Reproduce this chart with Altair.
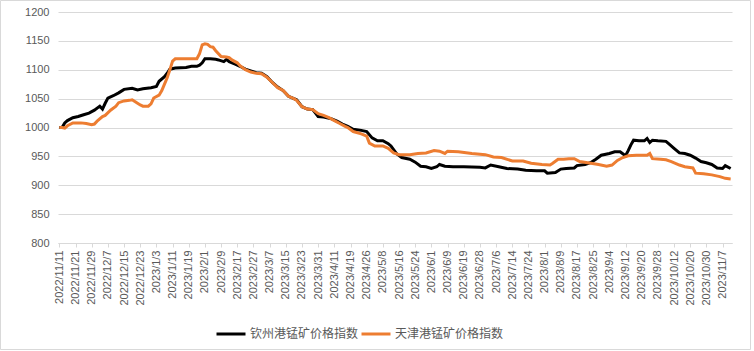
import altair as alt
import pandas as pd

QZ = "钦州港锰矿价格指数"
TJ = "天津港锰矿价格指数"

x_labels = ['2022/11/11', '2022/11/21', '2022/11/29', '2022/12/7', '2022/12/15', '2022/12/23',
            '2023/1/3', '2023/1/11', '2023/1/19', '2023/2/1', '2023/2/9', '2023/2/17', '2023/2/27',
            '2023/3/7', '2023/3/15', '2023/3/23', '2023/3/31', '2023/4/11', '2023/4/19', '2023/4/26',
            '2023/5/8', '2023/5/16', '2023/5/24', '2023/6/1', '2023/6/9', '2023/6/19', '2023/6/28',
            '2023/7/6', '2023/7/14', '2023/7/24', '2023/8/1', '2023/8/9', '2023/8/17', '2023/8/25',
            '2023/9/4', '2023/9/12', '2023/9/20', '2023/9/28', '2023/10/12', '2023/10/20',
            '2023/10/30', '2023/11/7']
label_step = 6
n_days = 250

qz_idx = [0, 1, 2, 3, 5, 7, 9, 11, 13, 15, 16, 17, 18, 20, 22, 24, 27, 29, 31, 34, 36, 37, 39, 40,
          41, 43, 47, 49, 51, 52, 53, 54, 56, 58, 59, 61, 62, 63, 65, 67, 69, 71, 73, 75, 77, 79,
          81, 83, 85, 87, 88, 90, 92, 94, 96, 98, 101, 103, 105, 107, 109, 112, 114, 116, 118, 120,
          122, 123, 125, 127, 130, 132, 134, 136, 138, 140, 141, 143, 146, 150, 156, 158, 160, 163,
          166, 170, 173, 177, 180, 181, 184, 186, 188, 191, 192, 195, 197, 199, 201, 204, 206, 208,
          210, 211, 212, 213, 215, 217, 218, 219, 220, 222, 225, 226, 228, 230, 232, 234, 236, 238,
          240, 242, 244, 246, 247, 249]
qz_val = [1000, 1000, 1008, 1012, 1017, 1019, 1022, 1025, 1030, 1037, 1032, 1042, 1051, 1055, 1060,
          1066, 1068, 1065, 1067, 1069, 1071, 1080, 1088, 1094, 1101, 1103, 1104, 1106, 1106, 1108,
          1112, 1119, 1119, 1118, 1117, 1114, 1118, 1114, 1110, 1106, 1101, 1098, 1095, 1094, 1088,
          1078, 1070, 1064, 1054, 1050, 1048, 1036, 1032, 1031, 1019, 1018, 1015, 1011, 1006, 1002,
          997, 995, 993, 982, 977, 977, 972, 968, 955, 948, 945, 940, 933, 932, 929, 932, 936, 933,
          932, 932, 931, 930, 935, 932, 929, 928, 926, 925, 925, 921, 922, 928, 929, 930, 934, 936,
          939, 945, 952, 955, 958, 958, 951, 960, 970, 978, 977, 977, 981, 974, 978, 977, 976, 972,
          964, 956, 955, 952, 947, 941, 939, 936, 930, 929, 934, 929]

tj_idx = [0, 1, 2, 3, 5, 8, 10, 12, 13, 14, 16, 17, 19, 21, 22, 24, 26, 27, 28, 30, 31, 33, 34, 35,
          37, 38, 39, 40, 41, 42, 43, 47, 51, 52, 53, 54, 55, 56, 57, 58, 60, 62, 63, 64, 66, 67,
          69, 71, 73, 75, 77, 79, 81, 83, 85, 87, 88, 90, 92, 94, 96, 98, 100, 102, 104, 106, 107,
          109, 112, 114, 115, 117, 120, 122, 124, 126, 130, 133, 136, 139, 141, 143, 144, 148, 153,
          158, 161, 164, 168, 172, 175, 179, 182, 183, 185, 187, 189, 191, 193, 196, 200, 203, 205,
          207, 209, 211, 214, 218, 219, 220, 223, 225, 227, 230, 232, 235, 236, 239, 242, 245, 247,
          249]
tj_val = [1000, 1000, 999, 1003, 1008, 1008, 1007, 1005, 1006, 1011, 1019, 1021, 1030, 1037, 1043,
          1046, 1047, 1048, 1045, 1039, 1037, 1037, 1041, 1051, 1056, 1064, 1075, 1086, 1100, 1115,
          1119, 1119, 1119, 1128, 1143, 1145, 1144, 1140, 1139, 1133, 1123, 1122, 1121, 1117, 1112,
          1107, 1100, 1096, 1094, 1093, 1087, 1078, 1069, 1064, 1054, 1050, 1047, 1036, 1032, 1031,
          1024, 1021, 1017, 1012, 1007, 1002, 1000, 993, 989, 985, 973, 968, 968, 964, 956, 953,
          953, 955, 956, 960, 959, 955, 959, 958, 955, 953, 949, 948, 942, 942, 938, 936, 935, 938,
          945, 945, 946, 946, 941, 939, 936, 933, 935, 943, 948, 951, 952, 952, 955, 946, 945, 944,
          941, 935, 932, 930, 921, 920, 918, 915, 912, 911]

df = pd.concat([
    pd.DataFrame({"idx": qz_idx, "value": qz_val, "series": QZ}),
    pd.DataFrame({"idx": tj_idx, "value": tj_val, "series": TJ}),
], ignore_index=True)

tick_vals = [i * label_step for i in range(len(x_labels))]
label_expr = "[" + ",".join("'" + s + "'" for s in x_labels) + "][round(datum.value / %d)]" % label_step

AX_FONT = "Liberation Sans"
TXT = "#595959"
GRID = "#d9d9d9"

x_enc = alt.X(
    "idx:Q",
    scale=alt.Scale(domain=[-0.5, n_days - 0.5], nice=False, zero=False),
    axis=alt.Axis(values=tick_vals, labelExpr=label_expr, labelAngle=-90, grid=False,
                  domainColor=GRID, tickColor=GRID, tickSize=4, labelPadding=3,
                  labelFont=AX_FONT, labelFontSize=11, labelColor=TXT, title=None,
                  labelOverlap=False, labelBound=False, labelFlush=False),
)
y_enc = alt.Y(
    "value:Q",
    scale=alt.Scale(domain=[800, 1200], nice=False, zero=False),
    axis=alt.Axis(values=list(range(800, 1201, 50)), format="d", grid=True, gridColor=GRID,
                  domain=False, ticks=False, labelPadding=9, labelFont=AX_FONT, labelFontSize=11,
                  labelColor=TXT, title=None),
)
color_enc = alt.Color(
    "series:N",
    scale=alt.Scale(domain=[QZ, TJ], range=["#000000", "#ED7D31"]),
    legend=alt.Legend(orient="none", legendX=157, legendY=306, direction="horizontal",
                      title=None, symbolType="stroke", symbolSize=841, symbolStrokeWidth=3,
                      labelFont="Noto Sans CJK SC", labelFontSize=12, labelColor=TXT,
                      labelOffset=3, columnPadding=-4, labelLimit=300),
)

frame = alt.Chart(pd.DataFrame({"k": [0]})).mark_rect(
    filled=False, stroke=GRID, strokeWidth=1
).encode(x=alt.value(-57.5), x2=alt.value(692.5), y=alt.value(-11.5), y2=alt.value(337.5))

base = alt.Chart(df)
line_qz = base.transform_filter(alt.datum.series == QZ).mark_line(strokeWidth=3).encode(
    x=x_enc, y=y_enc, color=color_enc)
line_tj = base.transform_filter(alt.datum.series == TJ).mark_line(strokeWidth=3).encode(
    x=x_enc, y=y_enc, color=color_enc)

chart = alt.layer(frame, line_qz, line_tj).properties(
    width=674, height=231,
    autosize=alt.AutoSizeParams(type="none"),
    padding={"left": 58, "top": 12, "right": 22, "bottom": 108},
    background="white",
).configure_view(strokeWidth=0)

chart.save("out.html", embed_options={"renderer": "svg", "actions": False})
